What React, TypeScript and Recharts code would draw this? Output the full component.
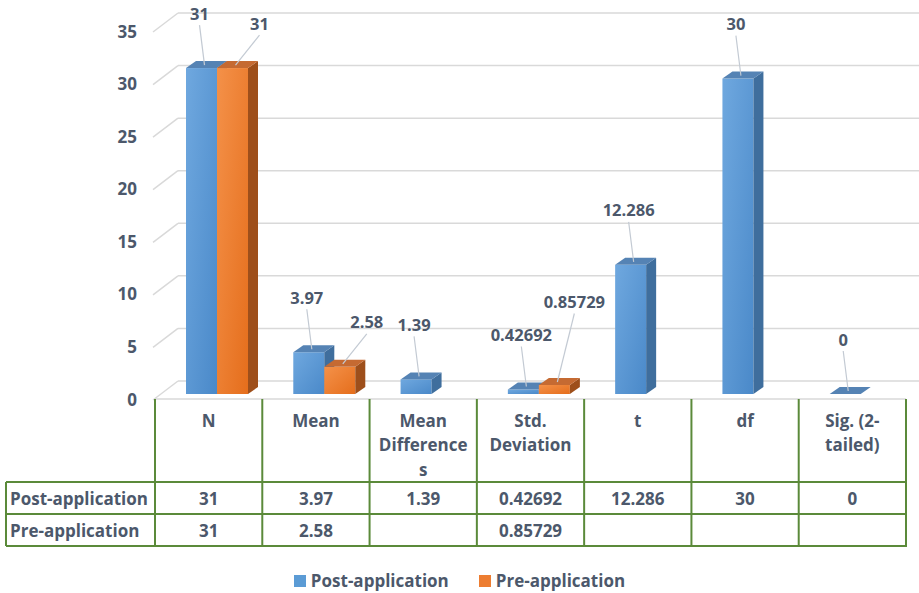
import React from 'react';
import { BarChart, Bar, XAxis, YAxis, CartesianGrid, LabelList } from 'recharts';

// values
const categories = ['N', 'Mean', 'Mean Differences', 'Std. Deviation', 't', 'df', 'Sig. (2-tailed)'];
const headerLines = [['N'], ['Mean'], ['Mean', 'Difference', 's'], ['Std.', 'Deviation'], ['t'], ['df'], ['Sig. (2-', 'tailed)']];
const postValues = [31, 3.97, 1.39, 0.42692, 12.286, 30, 0];
const preValues: (number | null)[] = [31, 2.58, null, 0.85729, null, null, null];
const yTicks = [0, 5, 10, 15, 20, 25, 30, 35];
const seriesNames = ['Post-application', 'Pre-application'];

const data = categories.map((name, i) => ({ name, post: postValues[i], pre: preValues[i] }));

// layout
const W = 919;
const H = 593;
const PLOT_LEFT = 155;
const PLOT_RIGHT = 906;
const PLOT_TOP = 26;
const PLOT_BOTTOM = 394;
const Y_MAX = yTicks[yTicks.length - 1];
const COL_W = (PLOT_RIGHT - PLOT_LEFT) / categories.length;
const TABLE_TOP = 399;
const ROW1 = 482;
const ROW2 = 514;
const TABLE_BOTTOM = 546;
const TABLE_LEFT = 6;
const DX = 10; // 3d depth
const DY = 7;
const SHIFT = 8;
const BLUE_DX = -5;
const BLUE_LIFT = 52;
const ORANGE_DX = 24;
const ORANGE_LIFT = 42;
const LABEL_SIZE = 16.5;

const FONT = '"Open Sans", "DejaVu Sans", sans-serif';
const TEXT = '#4C586B';
const GREEN = '#5B8A3A';
const GRID = '#D9D9D9';
const LEADER = '#C3CAD3';

const fmt = (v: number | null) => (v == null ? '' : String(v));
const textW = (s: string) => s.length * LABEL_SIZE * 0.6;

const make3D = (key: string, front: string, top: string, side: string) => (p: any) => {
  const { x, width, height, payload } = p;
  if (payload == null || payload[key] == null || x == null) return null;
  const X = x + SHIFT;
  const h = Math.max(0, height || 0);
  const Y = PLOT_BOTTOM - h;
  return (
    <g>
      {h > 0 && <rect x={X} y={Y} width={width} height={h} fill={front} />}
      {h > 0 && (
        <polygon
          points={`${X + width},${Y} ${X + width + DX},${Y - DY} ${X + width + DX},${PLOT_BOTTOM - DY} ${X + width},${PLOT_BOTTOM}`}
          fill={side}
        />
      )}
      <polygon
        points={`${X},${Y} ${X + width},${Y} ${X + width + DX},${Y - DY} ${X + DX},${Y - DY}`}
        fill={top}
      />
    </g>
  );
};

const makeLabel = (series: 'post' | 'pre') => (p: any) => {
  const { x, y, width, value } = p;
  if (value == null || x == null) return null;
  const bx = x + SHIFT + width / 2 + 3;
  const by = y - 3;
  let lx = bx + (series === 'post' ? BLUE_DX : ORANGE_DX);
  let ly = by - (series === 'post' ? BLUE_LIFT : ORANGE_LIFT);
  if (series === 'pre') {
    // keep clear of the neighbouring blue label
    const idx = preValues.indexOf(value);
    const pv = postValues[idx];
    if (pv != null) {
      const unit = (PLOT_BOTTOM - PLOT_TOP) / Y_MAX;
      const blueX = bx - width + BLUE_DX;
      const blueY = PLOT_BOTTOM - pv * unit - 3 - BLUE_LIFT;
      const overlapX = lx - textW(fmt(value)) / 2 < blueX + textW(fmt(pv)) / 2 + 4;
      const overlapY = Math.abs(ly - blueY) < 20;
      if (overlapX && overlapY) {
        ly = blueY - 33;
        lx = lx - 7;
      }
    }
  }
  return (
    <g>
      <line x1={lx} y1={ly + 12} x2={bx} y2={by} stroke={LEADER} strokeWidth={1.2} />
      <text x={lx} y={ly} textAnchor="middle" dominantBaseline="central" fontFamily={FONT} fontWeight={700} fontSize={LABEL_SIZE} fill={TEXT}>
        {fmt(value)}
      </text>
    </g>
  );
};

const GridLine = (p: any) => {
  const { y1, index } = p;
  if (y1 == null) return null;
  const back = y1 - 13;
  return (
    <g key={`g-${index}`}>
      <line x1={153} y1={y1 + 6} x2={178} y2={back} stroke={GRID} strokeWidth={1.5} />
      <line x1={178} y1={back} x2={W} y2={back} stroke={GRID} strokeWidth={1.5} />
      {Math.abs(y1 - PLOT_BOTTOM) < 1 && (
        <line x1={PLOT_LEFT} y1={TABLE_TOP} x2={PLOT_RIGHT} y2={TABLE_TOP} stroke={GRID} strokeWidth={1.5} />
      )}
    </g>
  );
};

const YTick = (p: any) => {
  const { y, payload } = p;
  return (
    <text x={137} y={y + 5} textAnchor="end" dominantBaseline="central" fontFamily={FONT} fontWeight={700} fontSize={17} fill={TEXT}>
      {payload.value}
    </text>
  );
};

const TableTick = (p: any) => {
  const { x, payload } = p;
  const i = payload.index;
  const left = x - COL_W / 2;
  const right = x + COL_W / 2;
  const txt = (tx: number, ty: number, s: string, anchor: any = 'middle') => (
    <text x={tx} y={ty} textAnchor={anchor} dominantBaseline="central" fontFamily={FONT} fontWeight={700} fontSize={17} fill={TEXT}>
      {s}
    </text>
  );
  return (
    <g>
      {i === 0 && (
        <g>
          <line x1={TABLE_LEFT} y1={ROW1} x2={PLOT_RIGHT + 1} y2={ROW1} stroke={GREEN} strokeWidth={2} />
          <line x1={TABLE_LEFT} y1={ROW2} x2={PLOT_RIGHT + 1} y2={ROW2} stroke={GREEN} strokeWidth={2} />
          <line x1={TABLE_LEFT} y1={TABLE_BOTTOM} x2={PLOT_RIGHT + 1} y2={TABLE_BOTTOM} stroke={GREEN} strokeWidth={2} />
          <line x1={TABLE_LEFT} y1={ROW1} x2={TABLE_LEFT} y2={TABLE_BOTTOM} stroke={GREEN} strokeWidth={2} />
          {txt(10, (ROW1 + ROW2) / 2, seriesNames[0], 'start')}
          {txt(10, (ROW2 + TABLE_BOTTOM) / 2, seriesNames[1], 'start')}
        </g>
      )}
      <line x1={left} y1={TABLE_TOP} x2={left} y2={TABLE_BOTTOM} stroke={GREEN} strokeWidth={2} />
      {i === categories.length - 1 && (
        <line x1={right} y1={TABLE_TOP} x2={right} y2={TABLE_BOTTOM} stroke={GREEN} strokeWidth={2} />
      )}
      {headerLines[i].map((s, k) => (
        <g key={k}>{txt(x, 420 + k * 24.5, s)}</g>
      ))}
      {txt(x, (ROW1 + ROW2) / 2, fmt(postValues[i]))}
      {txt(x, (ROW2 + TABLE_BOTTOM) / 2, fmt(preValues[i]))}
    </g>
  );
};

const LegendBox = () => (
  <div
    style={{
      position: 'absolute',
      left: 0,
      top: 569,
      width: W,
      display: 'flex',
      justifyContent: 'center',
      gap: 30,
      fontFamily: FONT,
      fontWeight: 700,
      fontSize: 17,
      color: TEXT,
    }}
  >
    {seriesNames.map((n, i) => (
      <div key={n} style={{ display: 'flex', alignItems: 'center', gap: 5 }}>
        <span style={{ display: 'inline-block', width: 12, height: 12, background: i === 0 ? '#5B9BD5' : '#ED7D31' }} />
        <span>{n}</span>
      </div>
    ))}
  </div>
);

export default function App() {
  return (
    <div style={{ position: 'absolute', left: 0, top: 0, width: W, height: H, background: '#fff' }}>
      <BarChart
        width={W}
        height={H}
        data={data}
        margin={{ top: PLOT_TOP, right: W - PLOT_RIGHT, bottom: 49, left: 95 }}
        barSize={31}
        barGap={0}
      >
        <defs>
          <linearGradient id="blueFront" x1="0" y1="0" x2="1" y2="1">
            <stop offset="0%" stopColor="#6FA8DF" />
            <stop offset="100%" stopColor="#4A89C9" />
          </linearGradient>
          <linearGradient id="orangeFront" x1="0" y1="0" x2="1" y2="1">
            <stop offset="0%" stopColor="#F49149" />
            <stop offset="100%" stopColor="#E56E1C" />
          </linearGradient>
        </defs>
        <CartesianGrid vertical={false} horizontal={GridLine} />
        <XAxis
          dataKey="name"
          axisLine={false}
          tickLine={false}
          tickSize={0}
          height={150}
          interval={0}
          tick={TableTick}
        />
        <YAxis
          domain={[0, Y_MAX]}
          ticks={yTicks}
          axisLine={false}
          tickLine={false}
          width={60}
          tick={YTick}
        />
        <Bar dataKey="post" name={seriesNames[0]} isAnimationActive={false} shape={make3D('post', 'url(#blueFront)', '#5583B4', '#3F6E9D')}>
          <LabelList dataKey="post" content={makeLabel('post')} />
        </Bar>
        <Bar dataKey="pre" name={seriesNames[1]} isAnimationActive={false} shape={make3D('pre', 'url(#orangeFront)', '#C56A32', '#9E4F1B')}>
          <LabelList dataKey="pre" content={makeLabel('pre')} />
        </Bar>
      </BarChart>
      <LegendBox />
    </div>
  );
}
